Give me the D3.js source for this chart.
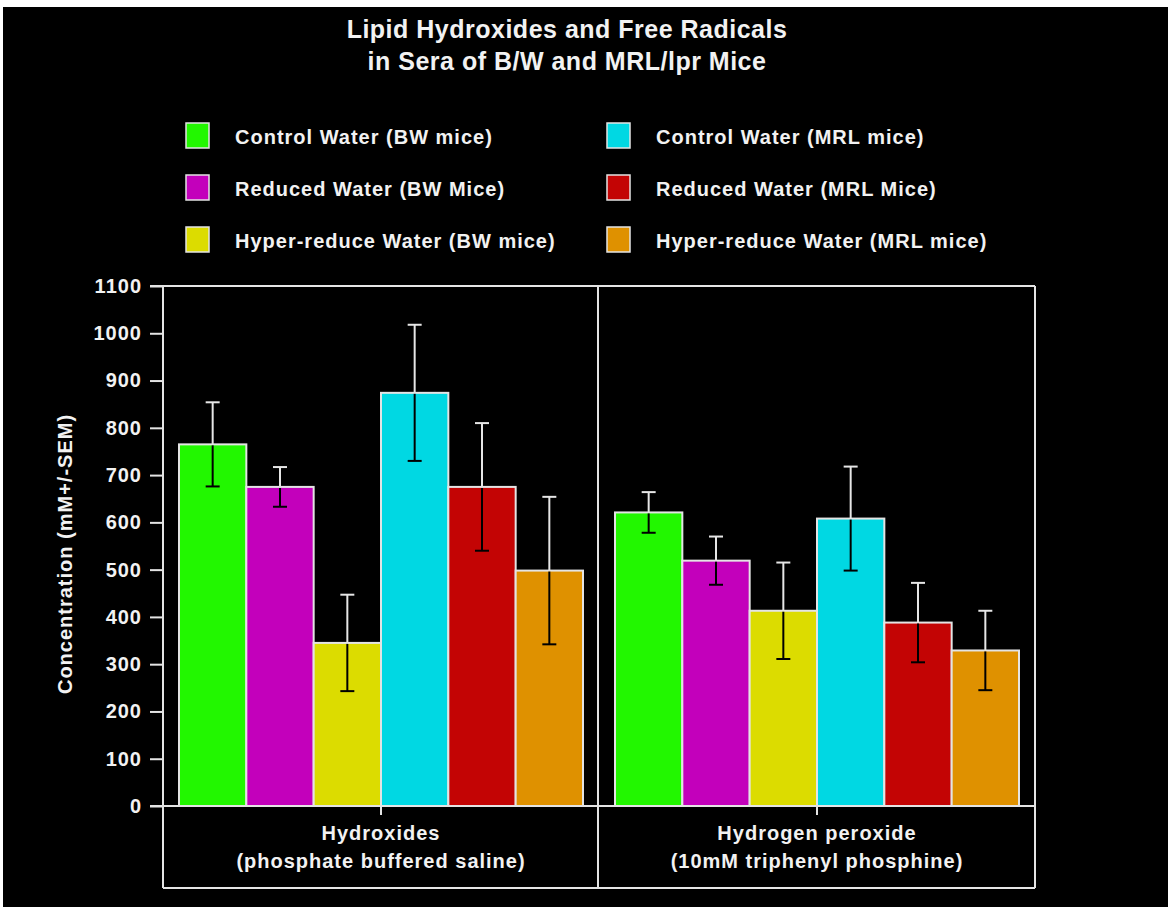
<!DOCTYPE html>
<html>
<head>
<meta charset="utf-8">
<script src="https://cdn.jsdelivr.net/npm/d3@7"></script>
<style>
  html, body { margin: 0; padding: 0; background: #fff; }
  svg { display: block; }
  text { font-family: "Liberation Sans", Arial, Helvetica, sans-serif; font-weight: bold; fill: #f2f2f2; letter-spacing: 1px; }
</style>
</head>
<body>
<script>
// ---- data ----
const titleLines = ["Lipid Hydroxides and Free Radicals", "in Sera of B/W and MRL/lpr Mice"];
const categories = ["Hydroxides", "Hydrogen peroxide"];
const categorySubLabels = ["(phosphate buffered saline)", "(10mM triphenyl phosphine)"];
const seriesNames = [
  "Control Water (BW mice)", "Reduced Water (BW Mice)", "Hyper-reduce Water (BW mice)",
  "Control Water (MRL mice)", "Reduced Water (MRL Mice)", "Hyper-reduce Water (MRL mice)"
];
const seriesColors = ["#22f700", "#c300bb", "#dcdc00", "#00d8e3", "#c30404", "#df9100"];
const hydroxidesValues = [765, 675, 345, 874, 675, 498];
const hydroxidesSEM    = [89, 42, 102, 144, 135, 156];
const peroxideValues   = [621, 519, 413, 608, 388, 329];
const peroxideSEM      = [43, 51, 102, 110, 84, 84];
const yTicks = [0, 100, 200, 300, 400, 500, 600, 700, 800, 900, 1000, 1100];
const yLabel = "Concentration (mM+/-SEM)";

const W = 1168, H = 907;
const plotL = 163, plotR = 1035, plotT = 286, plotB = 806, boxB = 888;
const lineCol = "#e4e4e4";
const FS = "20px";

const svg = d3.select("body").append("svg").attr("width", W).attr("height", H);
svg.append("rect").attr("width", W).attr("height", H).attr("fill", "#fff");
svg.append("rect").attr("x", 3).attr("y", 7).attr("width", W - 3).attr("height", H - 7).attr("fill", "#000");

// title
[38, 70].forEach((ty, i) => {
  svg.append("text").attr("x", 567).attr("y", ty).attr("text-anchor", "middle")
    .style("font-size", "25px").style("letter-spacing", "0.5px").text(titleLines[i]);
});

// legend
const legCols = [186, 607], legRows = [123, 175, 227];
seriesNames.forEach((name, i) => {
  const col = Math.floor(i / 3), row = i % 3;
  const g = svg.append("g").attr("transform", `translate(${legCols[col]},${legRows[row]})`);
  g.append("rect").attr("x", 0).attr("y", 0).attr("width", 23).attr("height", 25)
    .attr("fill", seriesColors[i]).attr("stroke", lineCol).attr("stroke-width", 1.5);
  g.append("text").attr("x", 49).attr("y", 21).style("font-size", FS).text(name);
});

// scales
const y = d3.scaleLinear().domain([0, 1100]).range([plotB, plotT]);
const x0 = d3.scaleBand().domain(categories).range([plotL, plotR]).padding(0);
const x1 = d3.scaleBand().domain(seriesNames).range([16, x0.bandwidth() - 16]).padding(0);

// y axis
const yAxis = d3.axisLeft(y).tickValues(yTicks).tickFormat(d3.format("d")).tickSize(13).tickPadding(8);
const ya = svg.append("g").attr("transform", `translate(${plotL},0)`).call(yAxis);
ya.select(".domain").remove();
ya.selectAll(".tick line").attr("stroke", lineCol).attr("stroke-width", 2);
ya.selectAll(".tick text").attr("fill", "#f2f2f2").style("font-size", FS)
  .style("font-family", '"Liberation Sans", Arial, sans-serif').style("font-weight", "bold");

svg.append("text").attr("transform", `translate(72,${(plotT + plotB) / 2 + 8}) rotate(-90)`)
  .attr("text-anchor", "middle").style("font-size", FS).text(yLabel);

// bars
const dataRows = [
  { cat: categories[0], vals: hydroxidesValues, sem: hydroxidesSEM },
  { cat: categories[1], vals: peroxideValues, sem: peroxideSEM }
];
dataRows.forEach(row => {
  const g = svg.append("g").attr("transform", `translate(${x0(row.cat)},0)`);
  row.vals.forEach((v, i) => {
    const bx = x1(seriesNames[i]), bw = x1.bandwidth();
    g.append("rect").attr("x", bx).attr("y", y(v)).attr("width", bw).attr("height", y(0) - y(v))
      .attr("fill", seriesColors[i]).attr("stroke", lineCol).attr("stroke-width", 2);
  });
  row.vals.forEach((v, i) => {
    const cx = x1(seriesNames[i]) + x1.bandwidth() / 2;
    const hi = v + row.sem[i], lo = v - row.sem[i];
    g.append("line").attr("x1", cx).attr("x2", cx).attr("y1", y(hi)).attr("y2", y(v))
      .attr("stroke", "#e6e6e6").attr("stroke-width", 2);
    g.append("line").attr("x1", cx - 7).attr("x2", cx + 7).attr("y1", y(hi)).attr("y2", y(hi))
      .attr("stroke", "#e6e6e6").attr("stroke-width", 2);
    g.append("line").attr("x1", cx).attr("x2", cx).attr("y1", y(v) + 1).attr("y2", y(lo))
      .attr("stroke", "#000").attr("stroke-width", 2);
    g.append("line").attr("x1", cx - 7).attr("x2", cx + 7).attr("y1", y(lo)).attr("y2", y(lo))
      .attr("stroke", "#000").attr("stroke-width", 2);
  });
});

// frame
const frame = svg.append("g").attr("fill", "none").attr("stroke", lineCol).attr("stroke-width", 2);
frame.append("line").attr("x1", plotL - 13).attr("x2", plotR).attr("y1", plotT).attr("y2", plotT);
frame.append("line").attr("x1", plotL).attr("x2", plotL).attr("y1", plotT).attr("y2", boxB);
frame.append("line").attr("x1", plotR).attr("x2", plotR).attr("y1", plotT).attr("y2", boxB);
frame.append("line").attr("x1", plotL - 13).attr("x2", plotR).attr("y1", y(0)).attr("y2", y(0));
frame.append("line").attr("x1", plotL).attr("x2", plotR).attr("y1", boxB).attr("y2", boxB);
frame.append("line").attr("x1", x0(categories[1]) - 1).attr("x2", x0(categories[1]) - 1)
  .attr("y1", plotT).attr("y2", boxB);

// category ticks and labels
categories.forEach((c, i) => {
  const cx = x0(c) + x0.bandwidth() / 2;
  frame.append("line").attr("x1", cx).attr("x2", cx).attr("y1", y(0)).attr("y2", y(0) + 9);
  svg.append("text").attr("x", cx).attr("y", 840).attr("text-anchor", "middle")
    .style("font-size", FS).text(c);
  svg.append("text").attr("x", cx).attr("y", 868).attr("text-anchor", "middle")
    .style("font-size", FS).text(categorySubLabels[i]);
});
</script>
</body>
</html>
